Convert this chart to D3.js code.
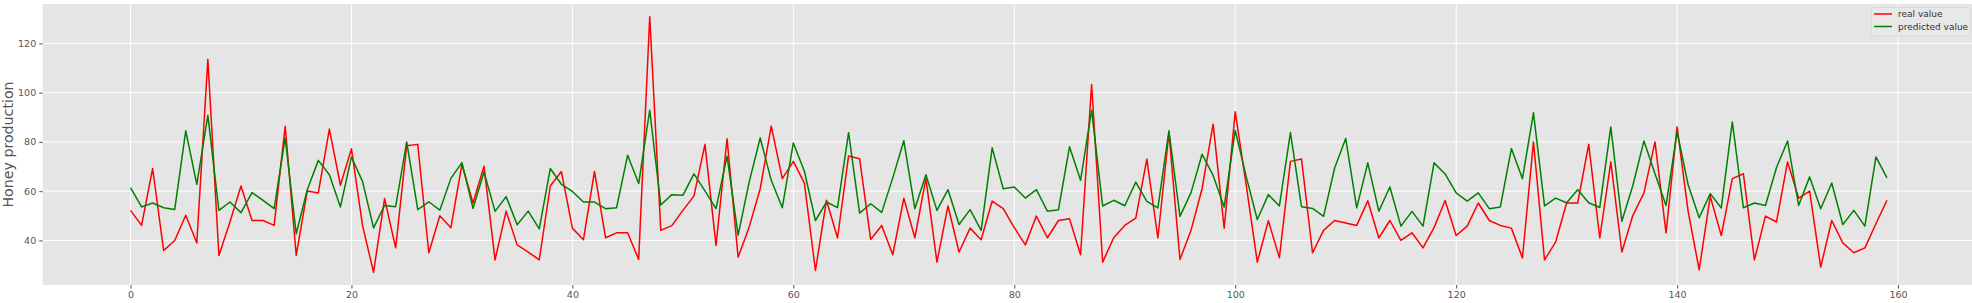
<!DOCTYPE html>
<html lang="en">
<head>
	<meta charset="UTF-8">
	<title>Honey production</title>
	<script src="https://cdn.jsdelivr.net/npm/d3@7"></script>
	<style>
		body {
			margin: 0;
			background-color: #ffffff;
		}
		.tick text {
			font-family: "DejaVu Sans", sans-serif;
			font-size: 9.5px;
			fill: #555555;
		}
		.tick line {
			stroke: #555555;
		}
		.domain {
			display: none;
		}
		.grid line {
			stroke: #ffffff;
			stroke-width: 1px;
		}
		.legend text {
			font-family: "DejaVu Sans", sans-serif;
			font-size: 9px;
			fill: #333333;
		}
	</style>
</head>
<body>
<script>

	// real and predicted honey production, index 0..159
	var realValue = [
		52.2, 46.1, 69.2, 35.9, 40, 50.2, 39, 113.5, 33.9, 47.5,
		62.1, 48.1, 48.1, 46.1, 86.4, 33.9, 60.1, 59.3, 85.2, 62.4,
		77.2, 46.1, 27.1, 57, 37, 78.4, 79, 35, 50, 45.2,
		70.9, 55.2, 70.1, 32.1, 51.9, 38.2, 35.3, 32.1, 62.1, 68,
		45, 40.3, 68, 41.1, 43.1, 43.1, 32.3, 130.8, 44.1, 46,
		52.2, 58, 79, 38, 81.3, 33.2, 45.4, 61, 86.4, 65.1,
		72.1, 63.3, 27.8, 56.3, 41, 74.3, 73.2, 40.4, 46.1, 34.2,
		57.1, 41.1, 65.1, 31.2, 54, 35.3, 45, 40.3, 56, 52.9,
		45.2, 38.2, 49.9, 41.1, 48.1, 48.8, 34.2, 103.3, 31.2, 41.1,
		46.1, 49.1, 73, 41, 83.7, 32.3, 44.1, 61, 87.2, 45,
		92.2, 62.4, 31.2, 48, 33, 72.1, 73.1, 35, 44.1, 48.1,
		47.1, 46.1, 56.1, 41, 48.1, 40, 43.1, 37, 45.2, 56.2,
		42, 45.8, 55.2, 48.1, 46.1, 45, 32.9, 80, 32.1, 39.3,
		55.2, 55.2, 79, 41, 71.9, 35.3, 50.2, 59.3, 80, 43.1,
		86.1, 51.8, 28.1, 57.9, 42, 65.1, 67.1, 32.1, 49.9, 47.5,
		71.9, 57.2, 60, 29.2, 48.1, 39, 35, 37, 46.8, 56.3
	];

	var predictedValue = [
		61.4, 53.6, 55.2, 53.3, 52.6, 84.5, 62.8, 90.8, 52.2, 55.6,
		51.3, 59.4, 56.3, 52.9, 81.6, 42.7, 60.6, 72.5, 66.7, 53.6,
		73.9, 64, 45.1, 54.2, 53.7, 80, 52.5, 55.7, 52.3, 65.2,
		71.6, 53, 67.8, 51.8, 57.8, 46.4, 51.9, 44.7, 69.2, 62.8,
		59.9, 55.6, 55.6, 52.9, 53.3, 74.6, 63.1, 92.9, 54.4, 58.6,
		58.3, 67, 60.1, 52.9, 74.2, 42.2, 63.7, 81.6, 64.4, 53.3,
		79.6, 68.1, 48.1, 55.6, 53.3, 83.8, 51.1, 54.9, 51.4, 65.4,
		80.5, 52.9, 66.7, 52.2, 60.6, 46.5, 52.5, 44.1, 77.6, 61,
		61.7, 57.2, 60.6, 51.9, 52.5, 78, 64.4, 92.9, 54, 56.3,
		54.1, 63.7, 55.9, 53.2, 84.5, 49.8, 59.4, 75, 66.4, 53.6,
		84.7, 65.8, 48.5, 58.6, 54, 83.8, 53.7, 53, 49.8, 69.4,
		81.4, 53.2, 71.5, 51.9, 61.7, 45.8, 51.8, 45.8, 71.5, 67,
		59.3, 56, 59.3, 52.9, 53.6, 77.3, 65.1, 91.8, 54, 57.2,
		55.3, 60.6, 55.3, 53.4, 86.1, 47.8, 62.4, 80.4, 67.1, 54.2,
		84.1, 62.6, 49.2, 59, 53.2, 88.1, 53.3, 55.2, 54.2, 69.6,
		80.4, 54.2, 65.8, 52.9, 63.3, 46.5, 52.2, 45.8, 73.9, 65.4
	];

	var xTicks = [0, 20, 40, 60, 80, 100, 120, 140, 160];
	var yTicks = [40, 60, 80, 100, 120];
	var seriesNames = ['real value', 'predicted value'];
	var seriesColors = ['#ff0000', '#008000'];

	var totalWidth = 1972, totalHeight = 303;
	var margin = {top: 4, left: 42.7, bottom: 18};
	var width = 1932.1,
			height = totalHeight - margin.top - margin.bottom;

	var svg = d3.select('body').append('svg')
		.attr('width', totalWidth)
		.attr('height', totalHeight)
		.style('display', 'block');

	var g = svg.append('g')
		.attr('transform', 'translate(' + margin.left + ',' + margin.top + ')');

	// matplotlib style 5% padding on both axes
	var n = realValue.length;
	var xPad = (n - 1) * 0.05;
	var x = d3.scaleLinear()
		.domain([-xPad, n - 1 + xPad])
		.range([0, width]);

	var allValues = realValue.concat(predictedValue);
	var yMin = d3.min(allValues), yMax = d3.max(allValues);
	var yPad = (yMax - yMin) * 0.05;
	var y = d3.scaleLinear()
		.domain([yMin - yPad, yMax + yPad])
		.range([height, 0]);

	g.append('rect')
		.attr('width', width)
		.attr('height', height)
		.style('fill', '#e5e5e5');

	// grid
	g.append('g')
		.attr('class', 'grid')
		.selectAll('line.gx')
		.data(xTicks)
		.enter()
		.append('line')
		.attr('x1', function(d) { return x(d); })
		.attr('x2', function(d) { return x(d); })
		.attr('y1', 0)
		.attr('y2', height);

	g.append('g')
		.attr('class', 'grid')
		.selectAll('line.gy')
		.data(yTicks)
		.enter()
		.append('line')
		.attr('x1', 0)
		.attr('x2', width)
		.attr('y1', function(d) { return y(d); })
		.attr('y2', function(d) { return y(d); });

	// axes
	g.append('g')
		.attr('transform', 'translate(0,' + height + ')')
		.call(d3.axisBottom(x).tickValues(xTicks).tickSize(3.5).tickPadding(3));

	g.append('g')
		.call(d3.axisLeft(y).tickValues(yTicks).tickSize(3.5).tickPadding(3));

	svg.append('text')
		.attr('transform', 'translate(13,' + (margin.top + height / 2) + ') rotate(-90)')
		.style('text-anchor', 'middle')
		.style('fill', '#555555')
		.style('font-family', '"DejaVu Sans", sans-serif')
		.style('font-size', '14.2px')
		.text('Honey production');

	// lines
	var line = d3.line()
		.x(function(d, i) { return x(i); })
		.y(function(d) { return y(d); });

	var plotArea = g.append('g');

	[realValue, predictedValue].forEach(function(series, k) {
		plotArea.append('path')
			.datum(series)
			.attr('d', line)
			.style('fill', 'none')
			.style('stroke', seriesColors[k])
			.style('stroke-width', 1.5)
			.style('stroke-linejoin', 'round');
	});

	// legend
	var legend = svg.append('g')
		.attr('class', 'legend')
		.attr('transform', 'translate(1871.5,7.5)');

	legend.append('rect')
		.attr('width', 99)
		.attr('height', 28.5)
		.attr('rx', 2)
		.style('fill', '#e8e8e8')
		.style('stroke', '#d6d6d6')
		.style('stroke-width', 0.8);

	var item = legend.selectAll('.item')
		.data(seriesNames)
		.enter()
		.append('g')
		.attr('transform', function(d, i) {
			return 'translate(0,' + (6.5 + i * 12.5) + ')';
		});

	item.append('line')
		.attr('x1', 2.5)
		.attr('x2', 20.5)
		.style('stroke', function(d, i) { return seriesColors[i]; })
		.style('stroke-width', 1.5);

	item.append('text')
		.attr('x', 26.5)
		.attr('dy', '0.35em')
		.text(function(d) { return d; });

</script>
</body>
</html>
